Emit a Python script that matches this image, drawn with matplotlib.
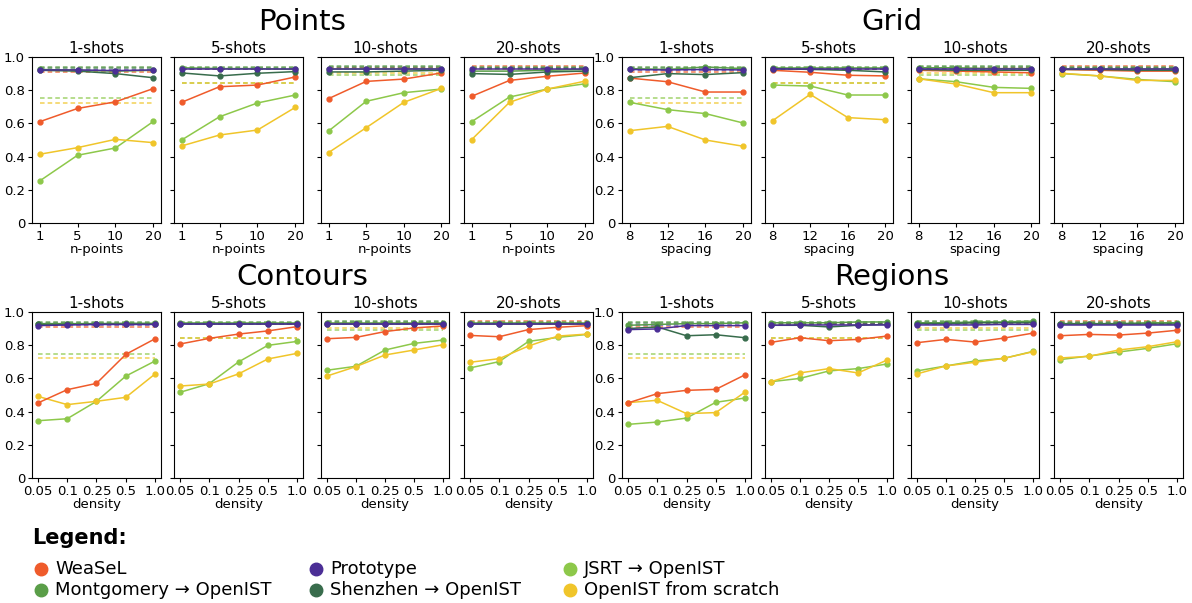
import matplotlib
matplotlib.use("Agg")
import matplotlib.pyplot as plt
from matplotlib.lines import Line2D

# x tick labels per task
points_x = ["1", "5", "10", "20"]
grid_x = ["8", "12", "16", "20"]
density_x = ["0.05", "0.1", "0.25", "0.5", "1.0"]
shots = ["1-shots", "5-shots", "10-shots", "20-shots"]

series_names = ["WeaSeL", "Prototype", "JSRT \u2192 OpenIST",
                "Montgomery \u2192 OpenIST", "Shenzhen \u2192 OpenIST", "OpenIST from scratch"]
colors = ["#EF5B2B", "#4B2E96", "#8DC84A", "#5A9E48", "#386C4C", "#F0C52A"]

# dashed reference lines, one value per shot setting (same for all tasks)
weasel_ref = [0.91, 0.93, 0.935, 0.948]
proto_ref = [0.92, 0.925, 0.93, 0.935]
jsrt_ref = [0.75, 0.845, 0.89, 0.925]
mont_ref = [0.94, 0.94, 0.945, 0.94]
shen_ref = [0.935, 0.935, 0.94, 0.935]
scratch_ref = [0.72, 0.845, 0.905, 0.93]

# ---- Points ----
weasel_points = [[0.61, 0.69, 0.73, 0.81], [0.727, 0.821, 0.831, 0.88],
                 [0.749, 0.853, 0.867, 0.904], [0.763, 0.859, 0.884, 0.904]]
proto_points = [[0.922, 0.922, 0.918, 0.922], [0.925, 0.925, 0.925, 0.925],
                [0.925, 0.925, 0.925, 0.925], [0.925, 0.925, 0.925, 0.925]]
jsrt_points = [[0.253, 0.408, 0.452, 0.612], [0.5, 0.64, 0.723, 0.771],
               [0.554, 0.733, 0.785, 0.807], [0.61, 0.759, 0.807, 0.839]]
mont_points = [[0.925, 0.92, 0.915, 0.92], [0.935, 0.93, 0.93, 0.925],
               [0.93, 0.93, 0.93, 0.93], [0.915, 0.915, 0.92, 0.925]]
shen_points = [[0.92, 0.915, 0.9, 0.875], [0.904, 0.886, 0.902, 0.912],
               [0.91, 0.91, 0.915, 0.92], [0.9, 0.895, 0.91, 0.915]]
scratch_points = [[0.414, 0.454, 0.504, 0.484], [0.464, 0.53, 0.56, 0.697],
                  [0.424, 0.574, 0.727, 0.811], [0.502, 0.727, 0.807, 0.855]]

# ---- Grid ----
weasel_grid = [[0.873, 0.851, 0.789, 0.789], [0.92, 0.908, 0.89, 0.886],
               [0.92, 0.915, 0.91, 0.905], [0.925, 0.92, 0.915, 0.915]]
proto_grid = [[0.925, 0.922, 0.925, 0.922], [0.925, 0.925, 0.925, 0.925],
              [0.925, 0.925, 0.925, 0.925], [0.925, 0.925, 0.925, 0.925]]
jsrt_grid = [[0.727, 0.683, 0.659, 0.602], [0.831, 0.825, 0.771, 0.771],
             [0.869, 0.851, 0.817, 0.811], [0.9, 0.886, 0.865, 0.851]]
mont_grid = [[0.93, 0.925, 0.94, 0.93], [0.935, 0.935, 0.935, 0.935],
             [0.935, 0.935, 0.93, 0.93], [0.93, 0.93, 0.93, 0.93]]
shen_grid = [[0.875, 0.9, 0.894, 0.906], [0.93, 0.925, 0.92, 0.91],
             [0.925, 0.92, 0.92, 0.92], [0.925, 0.925, 0.92, 0.92]]
scratch_grid = [[0.556, 0.582, 0.5, 0.462], [0.616, 0.775, 0.635, 0.622],
                [0.869, 0.837, 0.785, 0.785], [0.902, 0.886, 0.859, 0.859]]

# ---- Contours ----
weasel_contours = [[0.452, 0.532, 0.57, 0.745, 0.839], [0.807, 0.841, 0.867, 0.886, 0.912],
                   [0.839, 0.847, 0.882, 0.904, 0.916], [0.859, 0.851, 0.894, 0.908, 0.918]]
proto_contours = [[0.918, 0.922, 0.925, 0.925, 0.925], [0.925, 0.925, 0.925, 0.925, 0.925],
                  [0.925, 0.925, 0.925, 0.925, 0.925], [0.925, 0.925, 0.925, 0.925, 0.925]]
jsrt_contours = [[0.345, 0.357, 0.462, 0.614, 0.705], [0.516, 0.568, 0.699, 0.799, 0.823],
                 [0.649, 0.673, 0.771, 0.811, 0.831], [0.663, 0.701, 0.823, 0.847, 0.865]]
mont_contours = [[0.93, 0.93, 0.93, 0.932, 0.932], [0.935, 0.935, 0.935, 0.935, 0.935],
                 [0.935, 0.935, 0.935, 0.935, 0.935], [0.932, 0.932, 0.932, 0.932, 0.932]]
shen_contours = [[0.925, 0.925, 0.927, 0.927, 0.927], [0.93, 0.93, 0.93, 0.93, 0.93],
                 [0.93, 0.93, 0.93, 0.93, 0.93], [0.928, 0.928, 0.928, 0.928, 0.928]]
scratch_contours = [[0.492, 0.442, 0.462, 0.486, 0.627], [0.554, 0.566, 0.627, 0.717, 0.751],
                    [0.614, 0.671, 0.741, 0.771, 0.803], [0.697, 0.719, 0.795, 0.855, 0.867]]

# ---- Regions ----
weasel_regions = [[0.452, 0.508, 0.528, 0.534, 0.622], [0.817, 0.845, 0.827, 0.835, 0.855],
                  [0.815, 0.835, 0.819, 0.843, 0.873], [0.857, 0.865, 0.861, 0.873, 0.89]]
proto_regions = [[0.894, 0.898, 0.918, 0.918, 0.918], [0.92, 0.922, 0.922, 0.922, 0.922],
                 [0.922, 0.922, 0.922, 0.925, 0.925], [0.923, 0.923, 0.923, 0.923, 0.923]]
jsrt_regions = [[0.323, 0.337, 0.361, 0.456, 0.482], [0.58, 0.6, 0.645, 0.659, 0.687],
                [0.645, 0.675, 0.705, 0.721, 0.763], [0.713, 0.735, 0.759, 0.781, 0.809]]
mont_regions = [[0.92, 0.925, 0.93, 0.93, 0.935], [0.935, 0.935, 0.935, 0.94, 0.94],
                [0.935, 0.935, 0.94, 0.94, 0.945], [0.93, 0.93, 0.93, 0.935, 0.935]]
shen_regions = [[0.9, 0.91, 0.857, 0.863, 0.845], [0.92, 0.92, 0.91, 0.92, 0.925],
                [0.93, 0.93, 0.935, 0.935, 0.935], [0.93, 0.93, 0.93, 0.93, 0.93]]
scratch_regions = [[0.454, 0.468, 0.388, 0.394, 0.518], [0.58, 0.633, 0.659, 0.633, 0.711],
                   [0.627, 0.675, 0.697, 0.721, 0.761], [0.723, 0.733, 0.771, 0.791, 0.821]]

refs = [weasel_ref, proto_ref, jsrt_ref, mont_ref, shen_ref, scratch_ref]

tasks = [
    ("Points", points_x, "n-points",
     [weasel_points, proto_points, jsrt_points, mont_points, shen_points, scratch_points]),
    ("Grid", grid_x, "spacing",
     [weasel_grid, proto_grid, jsrt_grid, mont_grid, shen_grid, scratch_grid]),
    ("Contours", density_x, "density",
     [weasel_contours, proto_contours, jsrt_contours, mont_contours, shen_contours, scratch_contours]),
    ("Regions", density_x, "density",
     [weasel_regions, proto_regions, jsrt_regions, mont_regions, shen_regions, scratch_regions]),
]

W, H = 1192, 603
fig = plt.figure(figsize=(W / 100, H / 100), dpi=100)

# panel positions in pixels
col_lr = [(32, 161), (174, 303), (321, 449), (464, 593),
          (622, 751), (765, 893), (911, 1039), (1054, 1183)]
row_tb = [(57, 223), (312, 478)]
group_title = [(302, 22), (892, 22), (302, 277), (892, 277)]

# draw order: reference dashes, then solid lines (purple on top)
solid_order = [2, 5, 0, 3, 4, 1]
dash_order = [2, 5, 0, 1, 4, 3]

for ti, (name, xlabels, xname, data) in enumerate(tasks):
    row = ti // 2
    gcol = ti % 2
    top, bot = row_tb[row]
    gx, gy = group_title[ti]
    fig.text(gx / W, 1 - gy / H, name, fontsize=21, ha="center", va="center")
    for si in range(4):
        l, r = col_lr[gcol * 4 + si]
        ax = fig.add_axes([l / W, 1 - bot / H, (r - l) / W, (bot - top) / H])
        xs = list(range(len(xlabels)))
        for k in dash_order:
            ax.plot([xs[0], xs[-1]], [refs[k][si]] * 2, ls="--", lw=1.1,
                    color=colors[k], alpha=0.8, dashes=(3, 2))
        for k in solid_order:
            ax.plot(xs, data[k][si], color=colors[k], lw=1.1, marker="o",
                    markersize=3.5)
        ax.set_ylim(0, 1.0)
        ax.set_xlim(-0.2, len(xlabels) - 0.8)
        ax.set_xticks(xs)
        ax.set_xticklabels(xlabels)
        ax.set_yticks([0, 0.2, 0.4, 0.6, 0.8, 1.0])
        if si == 0:
            ax.set_yticklabels(["0", "0.2", "0.4", "0.6", "0.8", "1.0"])
        else:
            ax.set_yticklabels([])
        ax.tick_params(labelsize=9.5, length=3, pad=2)
        ax.set_xlabel(xname, fontsize=9.5, labelpad=0)
        ax.set_title(shots[si], fontsize=11, pad=3)

# legend drawn by hand so the columns sit where they do in the reference
fig.text(32 / W, 1 - 538 / H, "Legend:", fontsize=15, fontweight="bold",
         ha="left", va="center")
legend_pos = [(41, 569), (316, 569), (570, 569), (41, 590), (316, 590), (570, 590)]
legend_idx = [0, 1, 2, 3, 4, 5]
for (px, py), k in zip(legend_pos, legend_idx):
    fig.add_artist(Line2D([px / W], [1 - py / H], marker="o", markersize=9,
                          color=colors[k], linestyle="none",
                          transform=fig.transFigure))
    fig.text((px + 14) / W, 1 - py / H, series_names[k], fontsize=13,
             ha="left", va="center")

fig.savefig("out.png", dpi=100)
